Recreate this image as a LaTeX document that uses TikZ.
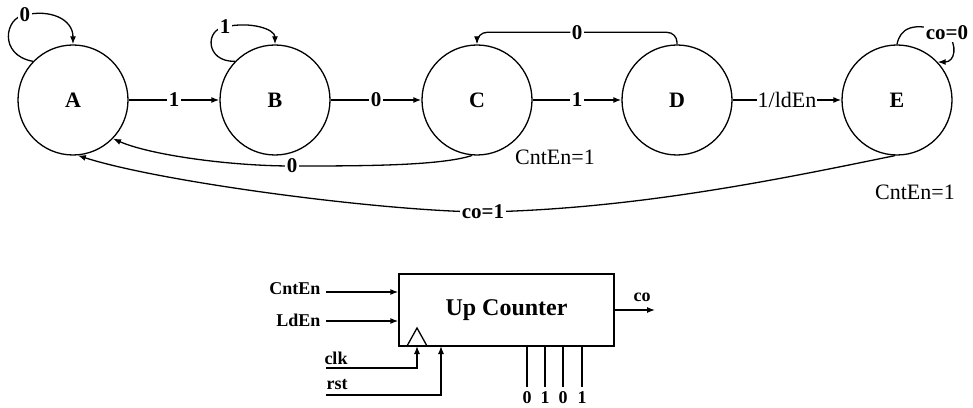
\documentclass[tikz,border=0pt]{standalone}
\usepackage{fontspec}
\setmainfont{Liberation Serif}
\usetikzlibrary{arrows.meta,calc}
\begin{document}
\begin{tikzpicture}[x=1pt,y=1pt,
 line width=1.3pt,
 state/.style={circle,draw,minimum size=110pt,inner sep=0pt,font=\fontsize{22}{24}\selectfont\bfseries},
 lbl/.style={fill=white,inner sep=1.5pt,font=\fontsize{21}{24}\selectfont\bfseries},
 plain/.style={inner sep=1pt,font=\fontsize{22}{24}\selectfont},
 arr/.style={-{Latex[length=8pt,width=6pt]}},
 small/.style={inner sep=1pt,font=\fontsize{18}{20}\selectfont\bfseries},
 pin/.style={inner sep=1pt,font=\fontsize{18}{20}\selectfont\bfseries}]
\useasboundingbox (0,0) rectangle (973,407);

% states
\node[state] (A) at (73,307) {A};
\node[state] (B) at (275,307) {B};
\node[state] (C) at (477,307) {C};
\node[state] (D) at (677,307) {D};
\node[state] (E) at (897,307) {E};

% straight transitions
\draw[arr] (A) -- node[lbl]{1} (B);
\draw[arr] (B) -- node[lbl]{0} (C);
\draw[arr] (C) -- node[lbl]{1} (D);
\draw[arr] (D) -- node[plain,fill=white]{1/ldEn} (E);

% self loop A
\coordinate (la) at (25,392);
\draw[arr] (A.136) .. controls (-2,352) and (5,390) .. (la) .. controls (50,398) and (73,388) .. (A.north);
\node[lbl] (lA) at (la) {0};

% self loop B
\coordinate (lb) at (225,380);
\draw[arr] (B.136) .. controls (205,345) and (205,378) .. (lb) .. controls (250,386) and (275,378) .. (B.north);
\node[lbl] (lB) at (lb) {1};

% self loop E
\coordinate (le) at (947,374);
\draw[arr] (E.north) .. controls (900,378) and (912,387) .. (le) .. controls (958,362) and (955,345) .. (E.43);
\node[lbl] (lE) at (le) {co=0};

% D -> C over the top
\draw[arr,rounded corners=10pt] (D.north) -- ++(0,12) -| node[lbl,pos=0.25]{0} (C.north);

% C -> A below
\coordinate (lc) at (292,241);
\draw[arr] (C.265) .. controls (440,241) and (360,241) .. (lc) .. controls (230,241) and (150,252) .. (A.316);
\node[lbl] (lC) at (lc) {0};

% E -> A below
\coordinate (lco) at (483,195);
\draw[arr] (E.268) .. controls (790,230) and (640,198) .. (lco) .. controls (380,196) and (160,225) .. (A.275);
\node[lbl] (lCo) at (lco) {co=1};

% output annotations
\node[plain] (cntC) at (555,250) {CntEn=1};
\node[plain] (cntE) at (915,215) {CntEn=1};

% Up counter
\node[draw,minimum width=215pt,minimum height=72pt,inner sep=0pt,
      font=\fontsize{24}{26}\selectfont\bfseries] (uc) at (506.5,97) {Up Counter};

\node[small,anchor=east] (cnt) at (322,118) {CntEn};
\coordinate (cntS) at (326,115);
\draw[arr] (cntS) -- (uc.west |- cntS);

\node[small,anchor=east] (ld) at (322,87) {LdEn};
\coordinate (ldS) at (326,86);
\draw[arr] (ldS) -- (uc.west |- ldS);

\node[small] (clk) at (336,49) {clk};
\coordinate (clkS) at (326,39);
\coordinate (clkE) at (417,61);
\draw[arr] (clkS) -| (clkE);
\draw (407,61) -- (417,79) -- (427,61);

\node[small] (rst) at (337,22) {rst};
\coordinate (rstS) at (326,12);
\coordinate (rstE) at (441,61);
\draw[arr] (rstS) -| (rstE);

\coordinate (coE) at (655,97);
\draw[arr] (uc.east) -- (coE);
\node[small] (co) at (642,110) {co};

\foreach \x/\l in {527/0,545/1,563/0,582/1}{
  \draw (\x,61) -- (\x,20);
  \node[pin] at (\x,9) {\l};
}
\end{tikzpicture}
\end{document}
